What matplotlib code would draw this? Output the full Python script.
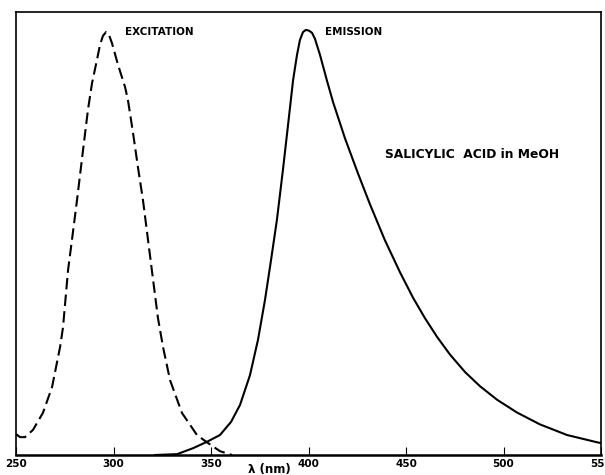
import matplotlib.pyplot as plt

# excitation spectrum (dashed), wavelength in nm vs relative intensity
exc_nm = [250.0, 252.1, 254.6, 258.7, 263.8, 268.5, 272.6, 274.1, 276.7, 278.7,
          281.3, 284.4, 286.9, 289.0, 291.5, 293.1, 294.6, 296.2, 297.7, 299.2,
          302.3, 305.9, 307.4, 310.0, 312.6, 315.1, 317.7, 320.3, 322.8, 325.4,
          329.0, 335.1, 342.8, 348.5, 354.6, 360.8]
exc_int = [0.049, 0.042, 0.042, 0.059, 0.099, 0.160, 0.254, 0.300, 0.435, 0.506,
           0.600, 0.718, 0.812, 0.875, 0.929, 0.965, 0.986, 0.995, 0.988, 0.969,
           0.918, 0.866, 0.835, 0.758, 0.675, 0.600, 0.506, 0.412, 0.322, 0.254,
           0.176, 0.099, 0.047, 0.028, 0.009, 0.0]

# emission spectrum (solid)
em_nm = [321.3, 332.6, 340.8, 347.9, 354.6, 360.3, 364.9, 370.0, 374.1, 377.7,
         380.8, 383.8, 386.9, 389.5, 392.1, 394.1, 395.6, 397.2, 398.7, 400.3,
         401.8, 403.3, 405.9, 409.5, 412.6, 418.7, 425.4, 431.5, 439.2, 446.9,
         453.6, 459.7, 465.9, 472.6, 480.3, 487.9, 496.7, 506.9, 518.7, 532.6,
         547.9, 550.0]
em_int = [0.0, 0.002, 0.016, 0.031, 0.047, 0.078, 0.118, 0.188, 0.271, 0.365,
          0.459, 0.553, 0.671, 0.776, 0.882, 0.941, 0.976, 0.995, 1.0, 0.998,
          0.993, 0.979, 0.941, 0.880, 0.830, 0.745, 0.662, 0.590, 0.505, 0.430,
          0.370, 0.322, 0.278, 0.236, 0.195, 0.162, 0.130, 0.100, 0.072, 0.047,
          0.030, 0.028]

xticks = [250, 300, 350, 400, 450, 500, 550]

fig = plt.figure(figsize=(6.05, 4.75), dpi=100)
ax = fig.add_axes([16/605, 1 - 455/475, 585/605, 443/475])

ax.plot(exc_nm, exc_int, color='black', lw=1.5, dashes=(5.5, 2.5))
ax.plot(em_nm, em_int, color='black', lw=1.5)

ax.set_xlim(250, 550)
ax.set_ylim(0, 1.042)
ax.set_yticks([])
ax.set_xticks(xticks)
ax.set_xticklabels([str(t) for t in xticks], fontsize=7.5, fontweight='bold')
ax.tick_params(axis='x', direction='in', length=6, width=0.8, pad=3)
for s in ['left', 'right', 'top']:
    ax.spines[s].set_linewidth(1.2)
ax.spines['bottom'].set_linewidth(1.8)

ax.text(306, 0.995, 'EXCITATION', fontsize=7.5, fontweight='bold', va='center', ha='left')
ax.text(408.5, 0.995, 'EMISSION', fontsize=7.5, fontweight='bold', va='center', ha='left')
ax.text(439.2, 0.706, 'SALICYLIC  ACID in MeOH', fontsize=8.8, fontweight='bold',
        va='center', ha='left')

fig.text(269/605, 1 - 470/475, 'λ (nm)', fontsize=8.5, fontweight='bold',
         ha='center', va='center')

fig.savefig('out.png', dpi=100)
